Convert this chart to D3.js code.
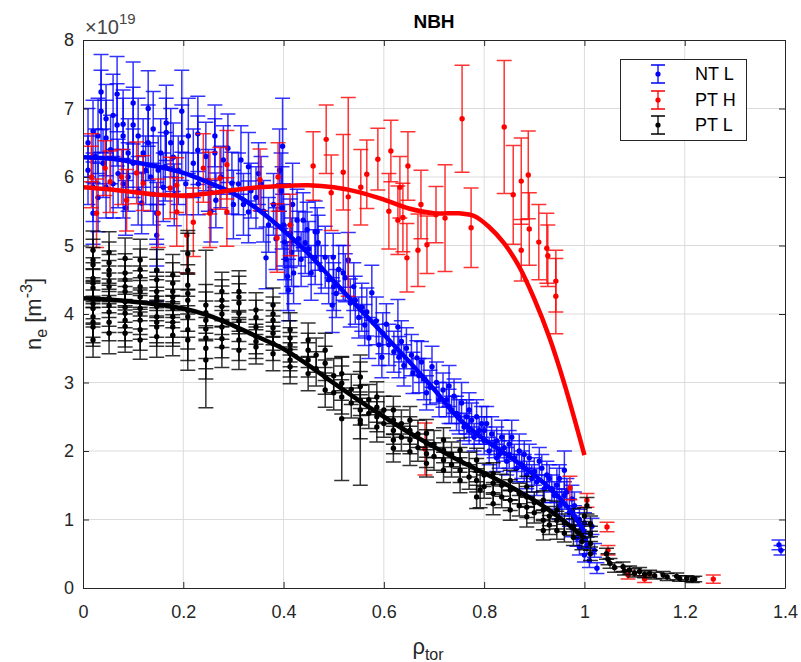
<!DOCTYPE html>
<html><head><meta charset="utf-8">
<script src="https://cdn.jsdelivr.net/npm/d3@7"></script>
<style>
html,body{margin:0;padding:0;background:#fff;}
svg{display:block;font-family:"Liberation Sans",Arial,Helvetica,sans-serif;}
</style></head>
<body><svg id="c" width="801" height="662"></svg>
<script>
// ---------------- DATA ----------------
const xTicks = [0, 0.2, 0.4, 0.6, 0.8, 1, 1.2, 1.4];
const yTicks = [0, 1, 2, 3, 4, 5, 6, 7, 8];
const seriesNames = ["NT L", "PT H", "PT L"];

// NT L : [rho, ne (1e19 m^-3), error]
const ntL = [
 [0.02,6.67,0.45],[0.02,5.85,0.5],[0.02,5.47,0.45],[0.025,6.3,0.4],
 [0.036,7.24,0.55],[0.036,6.96,0.6],[0.04,6.2,0.5],
 [0.046,6.85,0.5],[0.046,6.57,0.55],[0.046,5.85,0.45],
 [0.068,7.21,0.55],[0.068,6.76,0.6],[0.07,6.05,0.5],
 [0.08,6.6,0.55],[0.08,6.77,0.5],[0.08,5.9,0.5],[0.085,5.55,0.4],
 [0.1,7.08,0.6],[0.1,6.76,0.55],[0.1,6.2,0.5],
 [0.117,5.62,0.45],[0.12,6.35,0.5],
 [0.13,7.0,0.55],[0.13,6.5,0.55],[0.135,6.0,0.5],
 [0.147,5.15,0.45],[0.147,5.47,0.45],[0.15,6.1,0.5],[0.147,4.64,0.45],
 [0.164,6.15,0.5],[0.166,6.79,0.55],[0.166,6.65,0.5],
 [0.175,6.5,0.5],[0.18,6.29,0.5],[0.182,5.74,0.45],[0.197,6.96,0.6],[0.197,6.5,0.55],
 [0.229,6.63,0.55],[0.229,6.39,0.5],[0.23,5.9,0.45],
 [0.263,6.6,0.45],[0.263,6.35,0.5],[0.265,5.66,0.4],
 [0.289,6.42,0.5],[0.297,5.91,0.45],[0.3,5.6,0.5],
 [0.33,6.15,0.5],[0.33,5.49,0.45],[0.335,5.8,0.4],
 [0.365,4.82,0.45],[0.36,5.5,0.45],[0.355,5.9,0.4],
 [0.01,6.5,0.5],[0.01,6.1,0.5],[0.03,6.6,0.55],[0.03,5.7,0.5],[0.055,6.4,0.5],[0.06,5.9,0.5],
 [0.06,6.9,0.6],[0.09,6.35,0.5],[0.09,6.0,0.5],[0.11,6.6,0.55],[0.11,5.8,0.5],[0.125,6.1,0.5],
 [0.14,6.7,0.55],[0.14,5.75,0.45],[0.155,6.35,0.5],[0.16,5.85,0.5],[0.19,6.1,0.5],[0.205,5.9,0.45],
 [0.21,6.6,0.55],[0.22,6.2,0.5],[0.245,6.3,0.5],[0.25,5.95,0.45],[0.255,5.5,0.45],[0.275,6.0,0.45],
 [0.28,6.25,0.5],[0.31,5.9,0.45],[0.315,6.25,0.5],[0.32,5.6,0.45],[0.345,5.7,0.45],[0.35,6.05,0.45],
 [0.37,5.3,0.4],[0.38,5.6,0.45],[0.385,5.1,0.45],
 [0.392,6.1,0.6],[0.395,5.8,0.55],[0.397,5.55,0.6],[0.398,6.45,0.7],[0.4,5.3,0.6],
 [0.402,5.05,0.55],[0.405,4.8,0.5],[0.408,4.55,0.5],[0.41,4.35,0.45],[0.413,5.18,0.5],
 [0.416,4.9,0.5],[0.418,5.6,0.6],[0.42,4.6,0.45],
 [0.427,5.37,0.45],[0.439,5.37,0.4],[0.443,5.04,0.45],[0.447,5.23,0.4],[0.463,5.2,0.45],
 [0.463,4.83,0.4],[0.467,5.2,0.35],[0.469,5.04,0.4],[0.483,4.83,0.45],[0.497,4.13,0.4],
 [0.499,4.83,0.35],[0.5,4.4,0.35],[0.519,4.6,0.4],[0.523,4.53,0.35],[0.529,4.79,0.4],
 [0.533,4.16,0.35],[0.543,4.2,0.35],[0.556,4.1,0.35],[0.562,3.84,0.3],[0.566,4.03,0.35],
 [0.576,4.31,0.4],[0.596,3.37,0.3],[0.598,3.72,0.3],[0.61,3.55,0.3],[0.628,3.81,0.4],
 [0.63,3.37,0.3],[0.645,3.5,0.3],[0.658,3.14,0.3],[0.666,3.36,0.25],[0.68,3.05,0.3],
 [0.692,2.93,0.25],[0.696,3.23,0.3],[0.718,2.89,0.25],
 [0.43,5.1,0.4],[0.435,4.8,0.4],[0.45,4.95,0.4],[0.455,4.6,0.4],[0.475,4.65,0.35],[0.49,4.5,0.35],
 [0.505,4.3,0.35],[0.51,4.65,0.35],[0.54,4.4,0.35],[0.55,3.95,0.3],[0.57,3.65,0.3],[0.585,3.9,0.35],
 [0.59,3.55,0.3],[0.605,3.85,0.3],[0.62,3.45,0.3],[0.635,3.6,0.3],[0.64,3.25,0.3],[0.655,3.4,0.3],
 [0.67,3.1,0.25],[0.675,3.3,0.3],[0.685,2.85,0.25],[0.705,3.0,0.3],[0.71,2.75,0.25],
 [0.725,2.75,0.25],[0.73,2.95,0.3],[0.735,2.6,0.2],[0.74,2.8,0.25],[0.75,2.5,0.25],
 [0.755,2.7,0.3],[0.76,2.35,0.2],[0.77,2.6,0.25],[0.775,2.45,0.25],[0.78,2.2,0.2],
 [0.785,2.5,0.25],[0.79,2.3,0.2],[0.8,2.15,0.2],[0.805,2.4,0.25],[0.81,2.0,0.2],
 [0.815,2.25,0.25],[0.82,2.1,0.2],[0.83,1.95,0.2],[0.835,2.2,0.25],[0.84,2.05,0.2],
 [0.845,1.85,0.2],[0.85,2.1,0.2],[0.86,1.9,0.2],[0.865,1.75,0.2],[0.87,2.0,0.25],
 [0.875,1.8,0.2],[0.885,1.65,0.2],[0.89,1.9,0.2],[0.9,1.7,0.2],[0.905,1.55,0.2],
 [0.915,1.75,0.2],[0.92,1.45,0.2],[0.93,1.6,0.2],[0.94,1.35,0.2],[0.945,1.5,0.25],
 [0.955,1.25,0.2],[0.96,1.72,0.28],[0.965,1.4,0.2],[0.97,1.1,0.2],[0.975,0.9,0.15],
 [0.98,1.2,0.2],[0.985,0.73,0.12],[0.99,1.0,0.15],[0.995,0.8,0.12],[1.0,0.48,0.1],
 [1.005,0.62,0.12],[1.015,0.9,0.12],[1.025,0.29,0.08],
 [0.73,2.65,0.25],[0.745,2.55,0.25],[0.765,2.5,0.25],[0.77,2.3,0.2],[0.795,2.4,0.25],[0.8,2.3,0.2],
 [0.825,2.15,0.2],[0.825,1.9,0.2],[0.85,1.95,0.2],[0.855,2.2,0.25],[0.88,1.95,0.2],[0.88,1.75,0.2],
 [0.895,1.6,0.2],[0.91,1.85,0.2],[0.925,1.65,0.2],[0.935,1.45,0.2],[0.95,1.6,0.2],[0.95,1.2,0.2],
 [0.96,1.35,0.2],[0.975,1.3,0.2],[0.98,1.05,0.15],[0.99,0.6,0.12],[1.0,0.95,0.15],[1.002,0.7,0.12],
 [1.01,0.4,0.1],[1.02,0.55,0.1],
 [1.388,0.63,0.07],[1.392,0.55,0.07]
];

// PT H
const ptH = [
 [0.017,6.28,0.35],[0.017,6.0,0.45],[0.027,5.47,0.5],[0.044,6.13,0.4],[0.054,5.93,0.45],
 [0.077,6.0,0.4],[0.087,5.66,0.45],[0.107,6.06,0.45],[0.12,5.91,0.4],[0.15,5.47,0.5],
 [0.174,5.84,0.45],[0.187,5.88,0.4],[0.187,5.49,0.5],[0.207,5.15,0.55],[0.22,5.34,0.5],
 [0.24,6.13,0.5],[0.253,5.91,0.45],[0.253,5.47,0.5],[0.273,5.98,0.45],[0.287,6.18,0.5],
 [0.287,5.49,0.5],[0.353,5.96,0.45],[0.387,5.11,0.5],[0.389,6.0,0.5],[0.413,5.3,0.45],
 [0.459,6.16,0.5],[0.485,6.55,0.5],[0.495,5.77,0.55],[0.519,6.07,0.55],[0.529,5.71,1.45],
 [0.554,5.85,0.55],[0.566,6.04,0.5],[0.588,6.26,0.45],[0.614,6.38,0.45],[0.61,5.5,0.55],
 [0.628,5.37,0.5],[0.632,5.85,0.45],[0.638,5.41,0.5],[0.646,4.82,0.5],[0.648,6.16,0.5],
 [0.668,4.93,0.53],[0.674,5.6,0.5],[0.686,5.01,0.42],[0.704,5.45,0.41],[0.722,5.4,0.78],
 [0.756,6.85,0.78],[0.774,5.26,0.58],[0.84,6.73,0.97],[0.858,5.74,0.72],[0.874,5.94,0.63],
 [0.874,4.93,0.45],[0.888,6.03,0.64],[0.89,5.24,0.53],[0.909,5.05,0.55],[0.925,4.96,0.51],
 [0.927,4.85,0.45],[0.943,4.48,0.45],[0.943,4.26,0.55],[0.682,2.03,0.38],
 [0.971,1.46,0.17],[1.005,1.28,0.1],[1.045,0.89,0.07],[1.047,0.55,0.07],
 [1.087,0.19,0.06],[1.12,0.13,0.05],[1.257,0.13,0.06]
];

// PT L
const ptL = [
 [0.02,4.93,0.28],[0.02,4.79,0.3],[0.02,4.72,0.25],[0.02,4.52,0.3],[0.02,4.38,0.28],
 [0.02,4.23,0.3],[0.02,4.08,0.27],[0.02,3.96,0.3],[0.02,3.81,0.28],[0.02,3.62,0.25],
 [0.02,4.45,0.3],[0.02,4.15,0.3],[0.02,3.88,0.3],
 [0.052,4.9,0.3],[0.052,4.64,0.28],[0.052,4.57,0.3],[0.052,4.4,0.3],[0.052,4.23,0.28],
 [0.052,4.03,0.3],[0.052,3.88,0.27],[0.052,3.72,0.3],[0.052,4.75,0.3],[0.052,4.48,0.3],[0.052,4.12,0.3],
 [0.084,4.81,0.3],[0.084,4.6,0.28],[0.084,4.4,0.3],[0.084,4.33,0.27],[0.084,4.18,0.3],
 [0.084,4.01,0.28],[0.084,3.91,0.3],[0.084,3.72,0.28],[0.084,4.5,0.3],[0.084,4.1,0.3],[0.084,3.82,0.3],
 [0.114,4.79,0.3],[0.114,4.55,0.28],[0.114,4.4,0.3],[0.114,4.25,0.28],[0.114,4.08,0.3],
 [0.114,3.91,0.28],[0.114,3.77,0.3],[0.114,3.62,0.28],[0.114,4.65,0.3],[0.114,4.33,0.3],[0.114,4.0,0.3],
 [0.147,4.64,0.3],[0.147,4.33,0.28],[0.147,4.2,0.3],[0.147,4.11,0.28],[0.147,3.96,0.3],
 [0.147,3.81,0.28],[0.147,3.67,0.3],[0.147,4.5,0.3],[0.147,4.25,0.3],[0.147,3.88,0.3],
 [0.179,4.57,0.3],[0.179,4.33,0.28],[0.179,4.18,0.3],[0.179,4.08,0.28],[0.179,3.96,0.3],
 [0.179,3.81,0.28],[0.179,3.69,0.3],[0.179,4.45,0.3],[0.179,4.25,0.3],[0.179,3.88,0.3],
 [0.209,4.88,0.3],[0.209,4.64,0.28],[0.209,4.42,0.3],[0.209,4.2,1.02],[0.209,3.96,0.3],
 [0.209,3.77,0.28],[0.209,3.62,0.3],[0.209,4.3,0.3],[0.209,4.05,0.3],
 [0.245,4.13,0.3],[0.245,3.91,0.28],[0.245,3.78,1.15],[0.245,3.5,0.3],[0.245,3.33,0.28],
 [0.245,4.02,0.3],[0.245,3.65,0.3],
 [0.277,4.33,0.28],[0.277,4.11,0.3],[0.277,3.91,0.28],[0.277,3.81,0.3],[0.277,3.64,0.28],[0.277,3.52,0.3],
 [0.277,4.2,0.3],[0.277,4.0,0.3],
 [0.311,4.33,0.3],[0.311,4.16,0.28],[0.311,4.01,0.3],[0.311,3.77,0.28],[0.311,3.62,0.3],[0.311,3.47,0.28],
 [0.311,3.9,0.3],[0.311,4.25,0.3],
 [0.345,4.06,0.25],[0.345,3.81,0.25],[0.345,3.67,0.25],[0.345,3.52,0.25],[0.345,3.95,0.25],[0.345,3.6,0.25],
 [0.379,4.13,0.25],[0.379,3.91,0.25],[0.379,3.72,0.25],[0.379,3.57,0.25],[0.379,3.42,0.25],
 [0.379,3.8,0.25],[0.379,4.0,0.25],
 [0.413,3.77,0.25],[0.413,3.65,0.25],[0.413,3.55,0.25],[0.413,3.42,0.25],[0.413,3.33,0.25],[0.413,3.23,0.25],
 [0.413,3.48,0.25],
 [0.449,3.62,0.25],[0.449,3.47,0.25],[0.449,3.33,0.25],[0.449,3.13,0.25],
 [0.465,3.4,0.25],[0.465,3.2,0.25],
 [0.483,3.47,0.25],[0.483,3.28,0.25],[0.483,3.08,0.25],[0.483,2.89,0.25],
 [0.5,3.1,0.25],[0.5,2.85,0.25],
 [0.516,3.13,0.25],[0.516,2.99,0.25],[0.516,2.79,0.25],[0.516,2.47,0.9],
 [0.535,2.9,0.22],[0.535,2.7,0.22],
 [0.553,3.08,0.22],[0.553,2.94,0.22],[0.553,2.74,0.22],[0.553,2.6,0.22],[0.553,2.45,0.95],[0.553,2.4,0.22],
 [0.57,2.75,0.22],[0.57,2.55,0.22],
 [0.586,2.79,0.22],[0.586,2.64,0.22],[0.586,2.5,0.22],[0.586,2.35,0.22],
 [0.6,2.6,0.2],[0.6,2.4,0.2],
 [0.619,2.6,0.2],[0.619,2.45,0.2],[0.619,2.3,0.2],[0.619,2.16,0.2],[0.619,2.04,0.2],
 [0.635,2.4,0.2],[0.635,2.2,0.2],
 [0.652,2.45,0.2],[0.652,2.3,0.2],[0.652,2.16,0.2],[0.652,1.99,0.2],
 [0.668,2.25,0.2],[0.668,2.05,0.2],
 [0.685,2.26,0.2],[0.685,2.11,0.2],[0.685,1.96,0.2],[0.685,1.82,0.2],
 [0.7,2.1,0.2],[0.7,1.92,0.2],
 [0.719,2.16,0.18],[0.719,2.01,0.18],[0.719,1.87,0.18],[0.719,1.72,0.18],
 [0.735,1.95,0.18],[0.735,1.8,0.18],
 [0.752,2.01,0.18],[0.752,1.87,0.18],[0.752,1.72,0.18],[0.752,1.57,0.18],
 [0.77,1.8,0.18],[0.77,1.62,0.18],
 [0.785,1.87,0.17],[0.785,1.72,0.17],[0.785,1.57,0.17],[0.792,1.43,0.26],[0.785,1.33,0.17],
 [0.8,1.65,0.17],[0.8,1.48,0.17],
 [0.818,1.67,0.16],[0.818,1.53,0.16],[0.818,1.38,0.16],[0.818,1.23,0.16],
 [0.835,1.5,0.16],[0.835,1.33,0.16],
 [0.852,1.57,0.15],[0.852,1.43,0.15],[0.852,1.28,0.15],[0.852,1.14,0.15],
 [0.87,1.38,0.15],[0.87,1.2,0.15],
 [0.885,1.48,0.15],[0.885,1.33,0.15],[0.885,1.18,0.15],[0.885,1.04,0.15],
 [0.9,1.25,0.15],[0.9,1.1,0.15],
 [0.918,1.28,0.14],[0.918,1.14,0.14],[0.918,0.99,0.14],[0.918,0.84,0.14],
 [0.93,1.05,0.14],[0.93,0.92,0.14],
 [0.945,1.14,0.13],[0.945,0.99,0.13],[0.945,0.84,0.13],
 [0.96,0.95,0.13],[0.96,0.8,0.13],
 [0.978,1.04,0.12],[0.978,0.89,0.12],[0.978,0.74,0.12],
 [0.995,0.85,0.12],[0.995,0.68,0.12],[1.0,1.05,0.12],[1.005,1.2,0.12],
 [1.012,0.94,0.11],[1.012,0.79,0.11],[1.012,0.65,0.1],[1.012,0.5,0.1],
 [1.044,0.5,0.08],[1.047,0.42,0.08],[1.051,0.36,0.07],[1.06,0.3,0.07],[1.077,0.31,0.07],
 [1.08,0.25,0.06],[1.09,0.26,0.06],[1.1,0.22,0.06],[1.11,0.24,0.06],[1.12,0.2,0.05],
 [1.13,0.21,0.05],[1.14,0.18,0.05],[1.157,0.19,0.05],[1.165,0.16,0.05],[1.184,0.17,0.05],
 [1.19,0.14,0.04],[1.204,0.14,0.04],[1.215,0.12,0.04],[1.22,0.13,0.04]
];

// fitted profiles [rho, ne]
const ntLfit = [[0,6.29],[0.05,6.27],[0.1,6.22],[0.15,6.15],[0.2,6.06],[0.25,5.92],[0.3,5.76],
 [0.35,5.52],[0.4,5.22],[0.45,4.88],[0.5,4.48],[0.55,4.09],[0.6,3.7],[0.65,3.31],[0.7,2.9],
 [0.75,2.47],[0.8,2.17],[0.85,1.92],[0.9,1.65],[0.95,1.32],[0.98,1.05],[1.0,0.82]];
const ptHfit = [[0,5.85],[0.05,5.82],[0.1,5.78],[0.15,5.74],[0.2,5.73],[0.25,5.76],[0.3,5.81],
 [0.35,5.85],[0.4,5.87],[0.45,5.88],[0.5,5.85],[0.55,5.78],[0.6,5.67],[0.65,5.54],[0.7,5.47],
 [0.75,5.47],[0.78,5.43],[0.81,5.27],[0.84,5.03],[0.87,4.69],[0.9,4.22],[0.93,3.66],
 [0.96,2.98],[1.0,1.94]];
const ptLfit = [[0,4.23],[0.05,4.21],[0.1,4.18],[0.15,4.14],[0.2,4.08],[0.25,3.98],[0.3,3.83],
 [0.35,3.66],[0.4,3.49],[0.45,3.25],[0.5,2.99],[0.55,2.74],[0.6,2.5],[0.65,2.27],[0.7,2.06],
 [0.75,1.86],[0.8,1.68],[0.85,1.49],[0.9,1.28],[0.95,1.03],[1.0,0.73]];

// ---------------- LAYOUT ----------------
const L = 83, R = 785, T = 40, B = 588;
const FONT = '"Liberation Sans",Arial,Helvetica,sans-serif';
const AX = "#262626";

const svg = d3.select("#c");
const x = d3.scaleLinear().domain([0, 1.4]).range([L, R]);
const y = d3.scaleLinear().domain([0, 8]).range([B, T]);

// grid
const grid = svg.append("g");
grid.selectAll("line.gx").data(xTicks.slice(1, -1)).join("line")
  .attr("x1", d => x(d)).attr("x2", d => x(d)).attr("y1", T).attr("y2", B)
  .attr("stroke", "#dcdcdc").attr("stroke-width", 1);
grid.selectAll("line.gy").data(yTicks.slice(1, -1)).join("line")
  .attr("x1", L).attr("x2", R).attr("y1", d => y(d)).attr("y2", d => y(d))
  .attr("stroke", "#dcdcdc").attr("stroke-width", 1);

svg.append("clipPath").attr("id", "clip").append("rect")
  .attr("x", L).attr("y", T).attr("width", R - L).attr("height", B - T);
const plot = svg.append("g").attr("clip-path", "url(#clip)");

const CAP = 7.5;
function drawSeries(data, color) {
  const g = plot.append("g");
  g.append("g").attr("stroke", color).attr("stroke-width", 1.5).attr("stroke-opacity", 0.8)
    .selectAll("path").data(data).join("path")
    .attr("fill", "none")
    .attr("d", d => {
      const px = x(d[0]), y1 = y(d[1] + d[2]), y0 = y(d[1] - d[2]);
      return `M${px},${y1}V${y0}M${px - CAP},${y1}H${px + CAP}M${px - CAP},${y0}H${px + CAP}`;
    });
  g.append("g").selectAll("circle").data(data).join("circle")
    .attr("cx", d => x(d[0])).attr("cy", d => y(d[1])).attr("r", 2.7)
    .attr("fill", color);
}
drawSeries(ntL, "#0000ff");
drawSeries(ptH, "#ff0000");
drawSeries(ptL, "#000000");

const line = d3.line().x(d => x(d[0])).y(d => y(d[1])).curve(d3.curveCatmullRom.alpha(0.5));
[[ntLfit, "#0000ff"], [ptLfit, "#000000"], [ptHfit, "#ff0000"]].forEach(([f, c]) => {
  plot.append("path").datum(f).attr("d", line).attr("fill", "none")
    .attr("stroke", c).attr("stroke-width", 4.5);
});

// axes
const TL = 6;
const xb = svg.append("g").attr("transform", `translate(0,${B})`)
  .call(d3.axisBottom(x).tickValues(xTicks).tickSizeInner(-TL).tickSizeOuter(0).tickPadding(17)
        .tickFormat(d => d3.format("~g")(d)));
const yl = svg.append("g").attr("transform", `translate(${L},0)`)
  .call(d3.axisLeft(y).tickValues(yTicks).tickSizeInner(-TL).tickSizeOuter(0).tickPadding(9)
        .tickFormat(d3.format("d")));
const xt = svg.append("g").attr("transform", `translate(0,${T})`)
  .call(d3.axisTop(x).tickValues(xTicks).tickSizeInner(-TL).tickSizeOuter(0).tickFormat(""));
const yr = svg.append("g").attr("transform", `translate(${R},0)`)
  .call(d3.axisRight(y).tickValues(yTicks).tickSizeInner(-TL).tickSizeOuter(0).tickFormat(""));
[xb, yl, xt, yr].forEach(a => {
  a.selectAll("path.domain").attr("stroke", AX).attr("stroke-width", 1);
  a.selectAll(".tick line").attr("stroke", AX).attr("stroke-width", 1);
  a.selectAll(".tick text").attr("fill", AX).style("font-size", "18px").style("font-family", FONT);
});

// exponent label
const ex = svg.append("text").attr("x", L + 2).attr("y", 34).attr("fill", "#444")
  .style("font-size", "20px").style("font-family", FONT);
ex.append("tspan").text("\u00d710");
ex.append("tspan").attr("dy", -10).style("font-size", "15px").text("19");

// title
svg.append("text").attr("x", (L + R) / 2).attr("y", 28).attr("text-anchor", "middle")
  .attr("fill", "#000").style("font-size", "19px").style("font-weight", "bold")
  .style("font-family", FONT).text("NBH");

// y label
const ylab = svg.append("text").attr("transform", `translate(41,${(T + B) / 2}) rotate(-90)`)
  .attr("text-anchor", "middle").attr("fill", AX).style("font-size", "22px").style("font-family", FONT);
ylab.append("tspan").text("n");
ylab.append("tspan").attr("dy", 6).style("font-size", "16px").text("e");
ylab.append("tspan").attr("dy", -6).text(" [m");
ylab.append("tspan").attr("dy", -9).style("font-size", "16px").text("-3");
ylab.append("tspan").attr("dy", 9).text("]");

// x label
const xlab = svg.append("text").attr("x", (L + R) / 2 - 6).attr("y", 654)
  .attr("text-anchor", "middle").attr("fill", AX).style("font-size", "22px").style("font-family", FONT);
xlab.append("tspan").text("\u03c1");
xlab.append("tspan").attr("dy", 6).style("font-size", "16px").text("tor");

// legend
const leg = svg.append("g");
leg.append("rect").attr("x", 620.5).attr("y", 59.5).attr("width", 126).attr("height", 81)
  .attr("fill", "#fff").attr("stroke", AX).attr("stroke-width", 1);
const legColors = ["#0000ff", "#ff0000", "#000000"];
const legY = [74, 100, 125];
seriesNames.forEach((n, i) => {
  const g = leg.append("g").attr("transform", `translate(658,${legY[i]})`);
  g.append("path").attr("d", `M0,-9V9M-7,-9H7M-7,9H7`).attr("stroke", legColors[i])
    .attr("stroke-width", 1.3).attr("fill", "none");
  g.append("circle").attr("r", 2.6).attr("fill", legColors[i]);
  g.append("text").attr("x", 37).attr("y", 0).attr("dy", "0.35em").attr("fill", "#000")
    .style("font-size", "18px").style("font-family", FONT).text(n);
});
</script></body></html>
